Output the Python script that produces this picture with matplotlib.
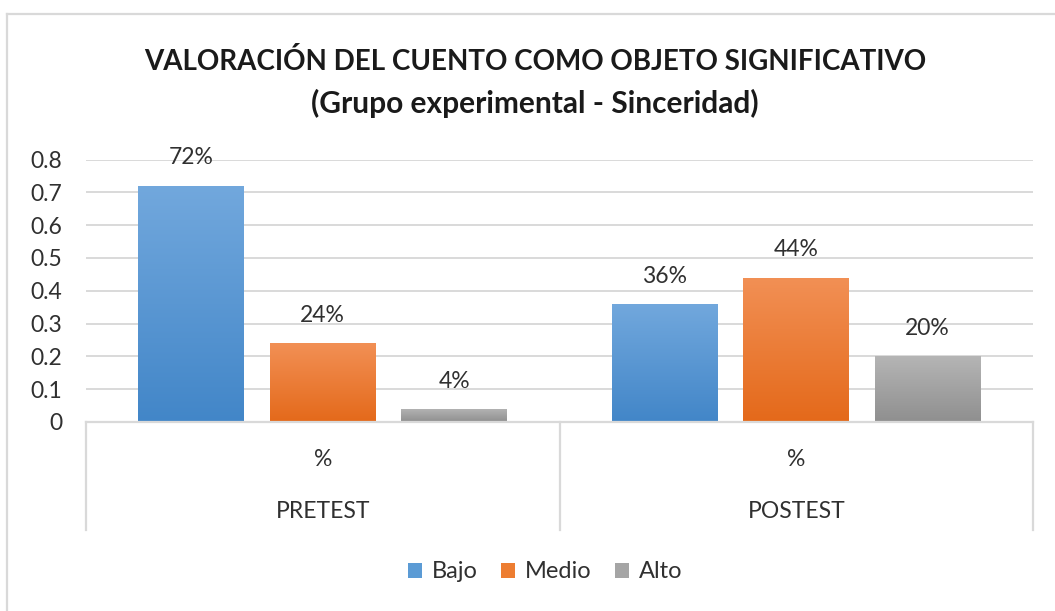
import matplotlib
matplotlib.use("Agg")
import matplotlib.pyplot as plt
import numpy as np
from matplotlib.patches import Patch
from matplotlib.lines import Line2D
from matplotlib.colors import LinearSegmentedColormap

plt.rcParams['font.family'] = ['Lato', 'DejaVu Sans']

groups = ['PRETEST', 'POSTEST']
sub_label = '%'
series = ['Bajo', 'Medio', 'Alto']
bajo = [0.72, 0.36]
medio = [0.24, 0.44]
alto = [0.04, 0.20]
values = [bajo, medio, alto]
yticks = [0, 0.1, 0.2, 0.3, 0.4, 0.5, 0.6, 0.7, 0.8]

# gradient (top, bottom) per series
grads = [('#72A8DD', '#4286C8'), ('#F29055', '#E4691A'), ('#B5B5B5', '#8F8F8F')]
solid = ['#5B9BD5', '#ED7D31', '#A5A5A5']
txt_col = '#303030'
fs = 16.5

W, H = 1055, 611
fig = plt.figure(figsize=(W / 100, H / 100), dpi=100)
ax = fig.add_axes([86 / W, 189 / H, (1033 - 86) / W, (422 - 159.5) / H])

bw = 0.2236
step = 0.2774
x = np.arange(len(groups)) + 0.5
grid_col = '#D9D9D9'

ax.set_yticks(yticks)
ax.set_yticklabels(['0' if t == 0 else f'{t:.1f}' for t in yticks])
ax.yaxis.grid(True, color=grid_col, lw=1.4)
ax.set_axisbelow(True)
for s in ax.spines.values():
    s.set_visible(False)
ax.tick_params(axis='y', length=0, pad=17, labelsize=fs, labelcolor=txt_col)
ax.set_xticks([])

grad = np.linspace(0, 1, 256).reshape(-1, 1)
for i, vals in enumerate(values):
    pos = x + (i - 1) * step
    bars = ax.bar(pos, vals, bw, color=solid[i], zorder=2, lw=0)
    cmap = LinearSegmentedColormap.from_list('g%d' % i, [grads[i][1], grads[i][0]])
    for b, v in zip(bars, vals):
        im = ax.imshow(grad, cmap=cmap, aspect='auto', origin='lower',
                       extent=[b.get_x(), b.get_x() + bw, 0, v], zorder=3)
        im.set_clip_path(b)
        ax.annotate(f'{round(v * 100)}%', (b.get_x() + bw / 2, v), xytext=(0, 20),
                    textcoords='offset points', ha='center', va='center',
                    fontsize=fs, color=txt_col, annotation_clip=False)
ax.set_xlim(0, 2)
ax.set_ylim(0, 0.8)

# category axis
tr = ax.get_xaxis_transform()
ax.plot([0, 2], [0, 0], transform=tr, color=grid_col, lw=1.6, clip_on=False, zorder=4)
for xv in [0, 1, 2]:
    ax.plot([xv, xv], [0, -108 / 262.5], transform=tr, color=grid_col, lw=1.6, clip_on=False)
for xc, g in zip(x, groups):
    ax.text(xc, -37 / 262.5, sub_label, transform=tr, ha='center', va='center',
            fontsize=fs, color=txt_col)
    ax.text(xc, -90 / 262.5, g, transform=tr, ha='center', va='center',
            fontsize=fs, color=txt_col)

fig.text(535 / W, 1 - 61 / H, 'VALORACIÓN DEL CUENTO COMO OBJETO SIGNIFICATIVO',
         ha='center', va='center', fontsize=20, fontweight='bold', color='#1a1a1a')
fig.text(535 / W, 1 - 103 / H, '(Grupo experimental - Sinceridad)',
         ha='center', va='center', fontsize=21.5, fontweight='bold', color='#1a1a1a')

handles = [Patch(facecolor=c, edgecolor='none') for c in solid]
fig.legend(handles, series, loc='center', bbox_to_anchor=(545 / W, 1 - 572 / H), ncol=3,
           frameon=False, fontsize=17, handlelength=0.6, handleheight=0.6,
           handletextpad=0.4, columnspacing=1.0, labelcolor=txt_col)

# chart border (top and left visible)
fig.add_artist(Line2D([7 / W, 7 / W], [0, 1 - 14 / H], transform=fig.transFigure,
                      color=grid_col, lw=1.6))
fig.add_artist(Line2D([7 / W, 1], [1 - 14 / H, 1 - 14 / H], transform=fig.transFigure,
                      color=grid_col, lw=1.6))

fig.savefig('out.png', dpi=100, facecolor='white')
